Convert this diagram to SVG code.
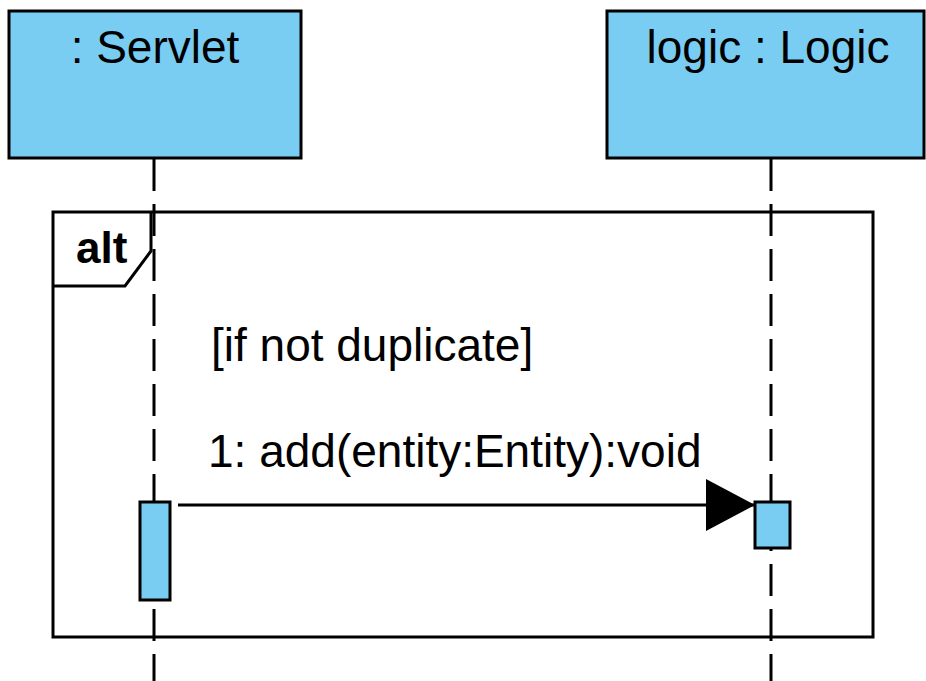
<svg xmlns="http://www.w3.org/2000/svg" width="926" height="681" viewBox="0 0 926 681">
  <style>
    .box { fill: #79CDF2; stroke: #000; stroke-width: 3; }
    .life { stroke: #000; stroke-width: 3; stroke-dasharray: 32 13; fill: none; }
    .frame { fill: none; stroke: #000; stroke-width: 3; }
    .lbl { font-family: "Liberation Sans", Arial, sans-serif; font-size: 46px; fill: #000; }
    .alt { font-family: "Liberation Sans", Arial, sans-serif; font-size: 44px; font-weight: bold; fill: #000; }
    .msg { stroke: #000; stroke-width: 3; fill: none; }
  </style>
  <defs>
    <marker id="filled" markerUnits="userSpaceOnUse" markerWidth="52" markerHeight="54" refX="49" refY="26" orient="auto">
      <path d="M0,0 L49,26 L0,52 Z" fill="#000"/>
    </marker>
  </defs>
  <rect width="926" height="681" fill="#fff"/>

  <g id="lifelines">
    <line class="life" x1="154" y1="159" x2="154" y2="681"/>
    <line class="life" x1="771" y1="159" x2="771" y2="681"/>
  </g>

  <g id="servlet">
    <rect class="box" x="9" y="11" width="292" height="147"/>
    <text class="lbl" x="155" y="63" text-anchor="middle">: Servlet</text>
  </g>

  <g id="logic">
    <rect class="box" x="607" y="11" width="317" height="147"/>
    <text class="lbl" x="768" y="63" text-anchor="middle">logic : Logic</text>
  </g>

  <g id="alt-frame">
    <rect class="frame" x="53" y="212" width="820" height="425"/>
    <path class="frame" d="M53,286 L125,286 L151,251 L151,212"/>
    <text class="alt" x="76" y="263">alt</text>
    <text class="lbl" x="211" y="361">[if not duplicate]</text>
  </g>

  <g id="servlet-activation">
    <rect class="box" x="140" y="502" width="30" height="98"/>
  </g>

  <g id="logic-activation">
    <rect class="box" x="755" y="502" width="35" height="46"/>
  </g>

  <g id="connectors">
    <line class="msg" x1="178" y1="505" x2="755" y2="505" marker-end="url(#filled)"/>
    <text class="lbl" x="208" y="467">1: add(entity:Entity):void</text>
  </g>
</svg>
